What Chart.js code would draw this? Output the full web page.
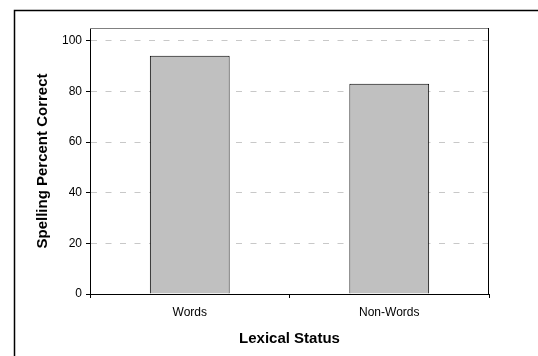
<!DOCTYPE html>
<html>
<head>
<meta charset="utf-8">
<script src="https://cdn.jsdelivr.net/npm/chart.js@4/dist/chart.umd.min.js"></script>
<style>
  html, body { margin: 0; padding: 0; background: #fff; }
  #wrap { width: 538px; height: 356px; }
</style>
</head>
<body>
<div id="wrap"><canvas id="myBarChart" width="538" height="356"></canvas></div>
<script>
// chart data
const categories = ['Words', 'Non-Words'];
const percentCorrect = [94, 83];
const yTicks = [0, 20, 40, 60, 80, 100];

// outer frame + top/right edge of the plot area
const frame = {
  id: 'frame',
  afterDraw(chart) {
    const ctx = chart.ctx;
    const a = chart.chartArea;
    ctx.save();
    ctx.setLineDash([]);
    ctx.strokeStyle = '#000';
    ctx.lineWidth = 1.5;
    ctx.strokeRect(14.5, 10.5, 540, 360);
    ctx.lineWidth = 1;
    ctx.strokeStyle = '#808080';
    ctx.beginPath();
    ctx.moveTo(a.left, a.top + 0.5);
    ctx.lineTo(a.right, a.top + 0.5);
    ctx.stroke();
    ctx.strokeStyle = '#000';
    ctx.beginPath();
    ctx.moveTo(a.right - 0.5, a.top);
    ctx.lineTo(a.right - 0.5, a.bottom);
    ctx.stroke();
    ctx.restore();
  }
};

const ctx = document.getElementById('myBarChart').getContext('2d');
new Chart(ctx, {
  type: 'bar',
  data: {
    labels: categories,
    datasets: [{
      label: 'Spelling Percent Correct',
      data: percentCorrect,
      backgroundColor: '#c0c0c0',
      borderColor: '#000',
      borderWidth: 1,
      barPercentage: 0.4,
      categoryPercentage: 1
    }]
  },
  options: {
    responsive: false,
    animation: false,
    layout: { padding: { left: 30, top: 28, right: 49, bottom: 0 } },
    plugins: {
      legend: { display: false },
      tooltip: { enabled: false }
    },
    scales: {
      x: {
        afterFit: (s) => { s.height = 62; },
        grid: {
          drawOnChartArea: false,
          tickLength: 4,
          tickColor: '#000'
        },
        border: { color: '#000', width: 1 },
        ticks: {
          color: '#000',
          padding: 7,
          font: { family: 'Liberation Sans, Arial, sans-serif', size: 12 }
        },
        title: {
          display: true,
          text: 'Lexical Status',
          color: '#000',
          padding: { top: 0, bottom: 8 },
          font: { family: 'Liberation Sans, Arial, sans-serif', size: 15, weight: 'bold' }
        }
      },
      y: {
        min: 0,
        max: 105,
        afterFit: (s) => { s.width = 60; },
        afterBuildTicks: (s) => { s.ticks = yTicks.map(v => ({ value: v })); },
        grid: {
          color: '#c8c8c8',
          tickLength: 4,
          tickColor: '#000',
          tickBorderDash: []
        },
        border: { color: '#000', width: 1, dash: [6, 8.5] },
        ticks: {
          color: '#000',
          padding: 4,
          font: { family: 'Liberation Sans, Arial, sans-serif', size: 12 }
        },
        title: {
          display: true,
          text: 'Spelling Percent Correct',
          color: '#000',
          padding: { top: 4, bottom: 0 },
          font: { family: 'Liberation Sans, Arial, sans-serif', size: 15, weight: 'bold' }
        }
      }
    }
  },
  plugins: [frame]
});
</script>
</body>
</html>
